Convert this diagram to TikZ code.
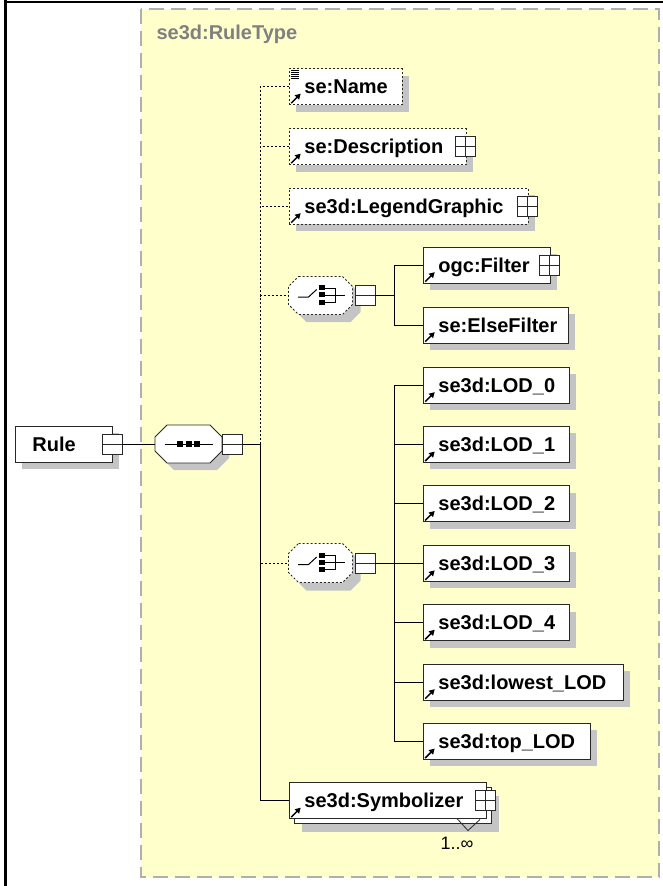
\documentclass[tikz,border=0pt]{standalone}
\usepackage{fontspec}
\setmainfont{Liberation Sans}
\usetikzlibrary{arrows.meta,shadows,calc}

\definecolor{typefill}{RGB}{255,255,204}
\definecolor{typeborder}{RGB}{175,175,175}
\definecolor{typetext}{RGB}{128,128,128}
\definecolor{shade}{RGB}{196,196,196}
\definecolor{edge}{RGB}{40,40,40}

\tikzset{
  every node/.style={font=\fontsize{20}{24}\selectfont\bfseries},
  elembase/.style={rectangle, draw=edge, line width=0.9pt, fill=white, anchor=west,
    minimum height=36pt, inner sep=0pt, text height=14.3pt, text depth=0pt},
  elem/.style={elembase, general shadow={fill=shade, shadow xshift=7pt, shadow yshift=-7pt}},
  elemmulti/.style={elembase,
    general shadow={fill=shade, shadow xshift=13pt, shadow yshift=-13pt},
    general shadow={fill=white, draw=edge, line width=0.9pt, shadow xshift=5pt, shadow yshift=-5pt}},
  optline/.style={dash pattern=on 2pt off 2pt},
  conn/.style={draw=black, line width=0.9pt},
  pmbox/.style={rectangle, draw=edge, line width=0.8pt, fill=white, minimum size=20pt, inner sep=0pt},
  plusbox/.style={pmbox, path picture={\draw[edge, line width=0.8pt]
    (path picture bounding box.north) -- (path picture bounding box.south)
    (path picture bounding box.west) -- (path picture bounding box.east);}},
  minusbox/.style={pmbox, path picture={\draw[edge, line width=0.8pt]
    (path picture bounding box.west) -- (path picture bounding box.east);}},
  compbox/.style={rectangle, inner sep=0pt, outer sep=0pt},
  linkarrow/.style={line width=1.5pt, -{Triangle[length=5.5pt,width=6pt]}},
}

% element box: [style]{name}{left x}{centre y}{width}{label}
\newcommand\elem[6][elem]{%
  \node[#1] (#2) at (#3,#4) {\makebox[#5pt][l]{\hspace*{15pt}#6}};
  \draw[linkarrow] ([shift={(2.2pt,1.8pt)}]#2.south west) -- ++(9.5pt,9.5pt);
}
% octagon outline around a node: {node}{corner cut}{path options}
\newcommand\octagon[3]{%
  \path[#3] ([xshift=#2]#1.north west) -- ([xshift=-#2]#1.north east)
    -- ([yshift=-#2]#1.north east) -- ([yshift=#2]#1.south east)
    -- ([xshift=-#2]#1.south east) -- ([xshift=#2]#1.south west)
    -- ([yshift=#2]#1.south west) -- ([yshift=-#2]#1.north west) -- cycle;
}
% choice compositor symbol centred on a node
\newcommand\choicesym[1]{%
  \draw[line width=1pt] ($(#1.center)+(-22.5,1.7)$) -- ($(#1.center)+(-12.2,1.7)$) -- ($(#1.center)+(-3.8,-6)$);
  \foreach \dy in {-7.8,-0.8,6.8}
    \fill ($(#1.center)+(-1.2,\dy)$) ++(0,-2.4pt) rectangle ++(5.7pt,4.8pt);
  \draw[line width=1pt] ($(#1.center)+(4.5,-7.3)$) -- ($(#1.center)+(14.5,-7.3)$)
    -- ($(#1.center)+(14.5,6.8)$) -- ($(#1.center)+(4.5,6.8)$);
  \draw[line width=1pt] ($(#1.center)+(4.5,-0.5)$) -- ($(#1.center)+(24.5,-0.5)$);
}

\begin{document}
\begin{tikzpicture}[x=1pt,y=-1pt]
\useasboundingbox (0,0) rectangle (663,886);

% frame
\draw[line width=2.5pt] (4,2.2) -- (663,2.2);
\draw[line width=2.5pt] (5.3,0) -- (5.3,886);

% complex type area
\filldraw[fill=typefill, draw=typeborder, line width=2pt, dash pattern=on 15pt off 7pt]
  (141,8.5) rectangle (659,877);
\node[anchor=base west, text=typetext] (typelabel) at (153,39) {se3d:RuleType};

% root element
\node[elem] (rule) at (15,444) {\makebox[97pt][l]{\hspace*{17pt}Rule}};
\node[minusbox] (ruleM) at ([xshift=-1pt]rule.east) {};

% sequence compositor
\node[compbox, minimum width=67pt, minimum height=38pt] (seqS) at (195.5,451) {};
\octagon{seqS}{12pt}{fill=shade}
\node[compbox, minimum width=67pt, minimum height=38pt] (seq) at (188.5,444) {};
\octagon{seq}{12pt}{draw=edge, fill=white, line width=0.9pt}
\draw[line width=1pt] ($(seq.center)+(-23.5,0)$) -- ($(seq.center)+(24.5,0)$);
\foreach \dx in {-8.6,0,8.6}
  \fill ($(seq.center)+(\dx,0)$) ++(-3pt,-3pt) rectangle ++(6pt,6pt);
\node[minusbox, anchor=west] (seqM) at (seq.east) {};

% optional children
\elem[elem,optline]{name}{289}{86.5}{113}{se:Name}
\foreach \k in {0,...,4}
  \draw[line width=0.8pt] ([shift={(2pt,{-2.5pt-1.9pt*\k})}]name.north west) -- ++(8pt,0);
\elem[elem,optline]{desc}{289}{146.5}{177}{se:Description}
\node[plusbox] (descP) at ([xshift=-2pt]desc.east) {};
\elem[elem,optline]{legend}{289}{206}{239}{se3d:LegendGraphic}
\node[plusbox] (legendP) at ([xshift=-2pt]legend.east) {};

% first choice
\node[compbox, minimum width=64pt, minimum height=38pt] (ch1S) at (328.5,303) {};
\octagon{ch1S}{10pt}{fill=shade}
\node[compbox, minimum width=64pt, minimum height=38pt] (ch1) at (320.5,295.5) {};
\octagon{ch1}{10pt}{draw=edge, fill=white, line width=0.9pt, optline}
\choicesym{ch1}
\node[minusbox, anchor=west] (ch1M) at ([xshift=2pt]ch1.east) {};

\elem{filter}{423}{265}{127}{ogc:Filter}
\node[plusbox] (filterP) at ([xshift=-2pt]filter.east) {};
\elem{elsef}{423}{325}{145}{se:ElseFilter}

% second choice
\node[compbox, minimum width=64pt, minimum height=39pt] (ch2S) at (328.5,571) {};
\octagon{ch2S}{10pt}{fill=shade}
\node[compbox, minimum width=64pt, minimum height=39pt] (ch2) at (320.5,563) {};
\octagon{ch2}{10pt}{draw=edge, fill=white, line width=0.9pt, optline}
\choicesym{ch2}
\node[minusbox, anchor=west] (ch2M) at ([xshift=2pt]ch2.east) {};

\elem{lod0}{423}{385}{146}{se3d:LOD\_0}
\elem{lod1}{423}{444.4}{146}{se3d:LOD\_1}
\elem{lod2}{423}{503.8}{146}{se3d:LOD\_2}
\elem{lod3}{423}{563.2}{146}{se3d:LOD\_3}
\elem{lod4}{423}{622.6}{146}{se3d:LOD\_4}
\elem{lowest}{423}{682}{200}{se3d:lowest\_LOD}
\elem{top}{423}{741.4}{167}{se3d:top\_LOD}

% repeated symbolizer
\elem[elemmulti]{sym}{289}{800.5}{197}{se3d:Symbolizer}
\node[plusbox] (symP) at ([xshift=-2pt]sym.east) {};
\draw[edge, line width=0.8pt] (457,818.5) -- (468,830.5) -- (480,819.5);
\node[anchor=base west, font=\fontsize{18}{21}\selectfont] (symocc) at (437,849) {1..∞};

% connectors
\coordinate (tk) at (260,444);
\coordinate (c1) at (394,295.5);
\coordinate (c2) at (394,563);
\draw[conn] (ruleM.east) -- (seq.west);
\draw[conn] (seqM.east) -- (tk);
\draw[conn, optline] (tk) |- (name.west);
\draw[conn, optline] (tk) |- (desc.west);
\draw[conn, optline] (tk) |- (legend.west);
\draw[conn, optline] (tk) |- (ch1.west);
\draw[conn, optline] (tk) |- (ch2.west);
\draw[conn] (tk) |- (sym.west);

\draw[conn] (ch1M.east) -- (c1);
\draw[conn] (c1) |- (filter.west);
\draw[conn] (c1) |- (elsef.west);

\draw[conn] (ch2M.east) -- (c2);
\foreach \n in {lod0,lod1,lod2,lod3,lod4,lowest,top}
  \draw[conn] (c2) |- (\n.west);
\end{tikzpicture}
\end{document}
